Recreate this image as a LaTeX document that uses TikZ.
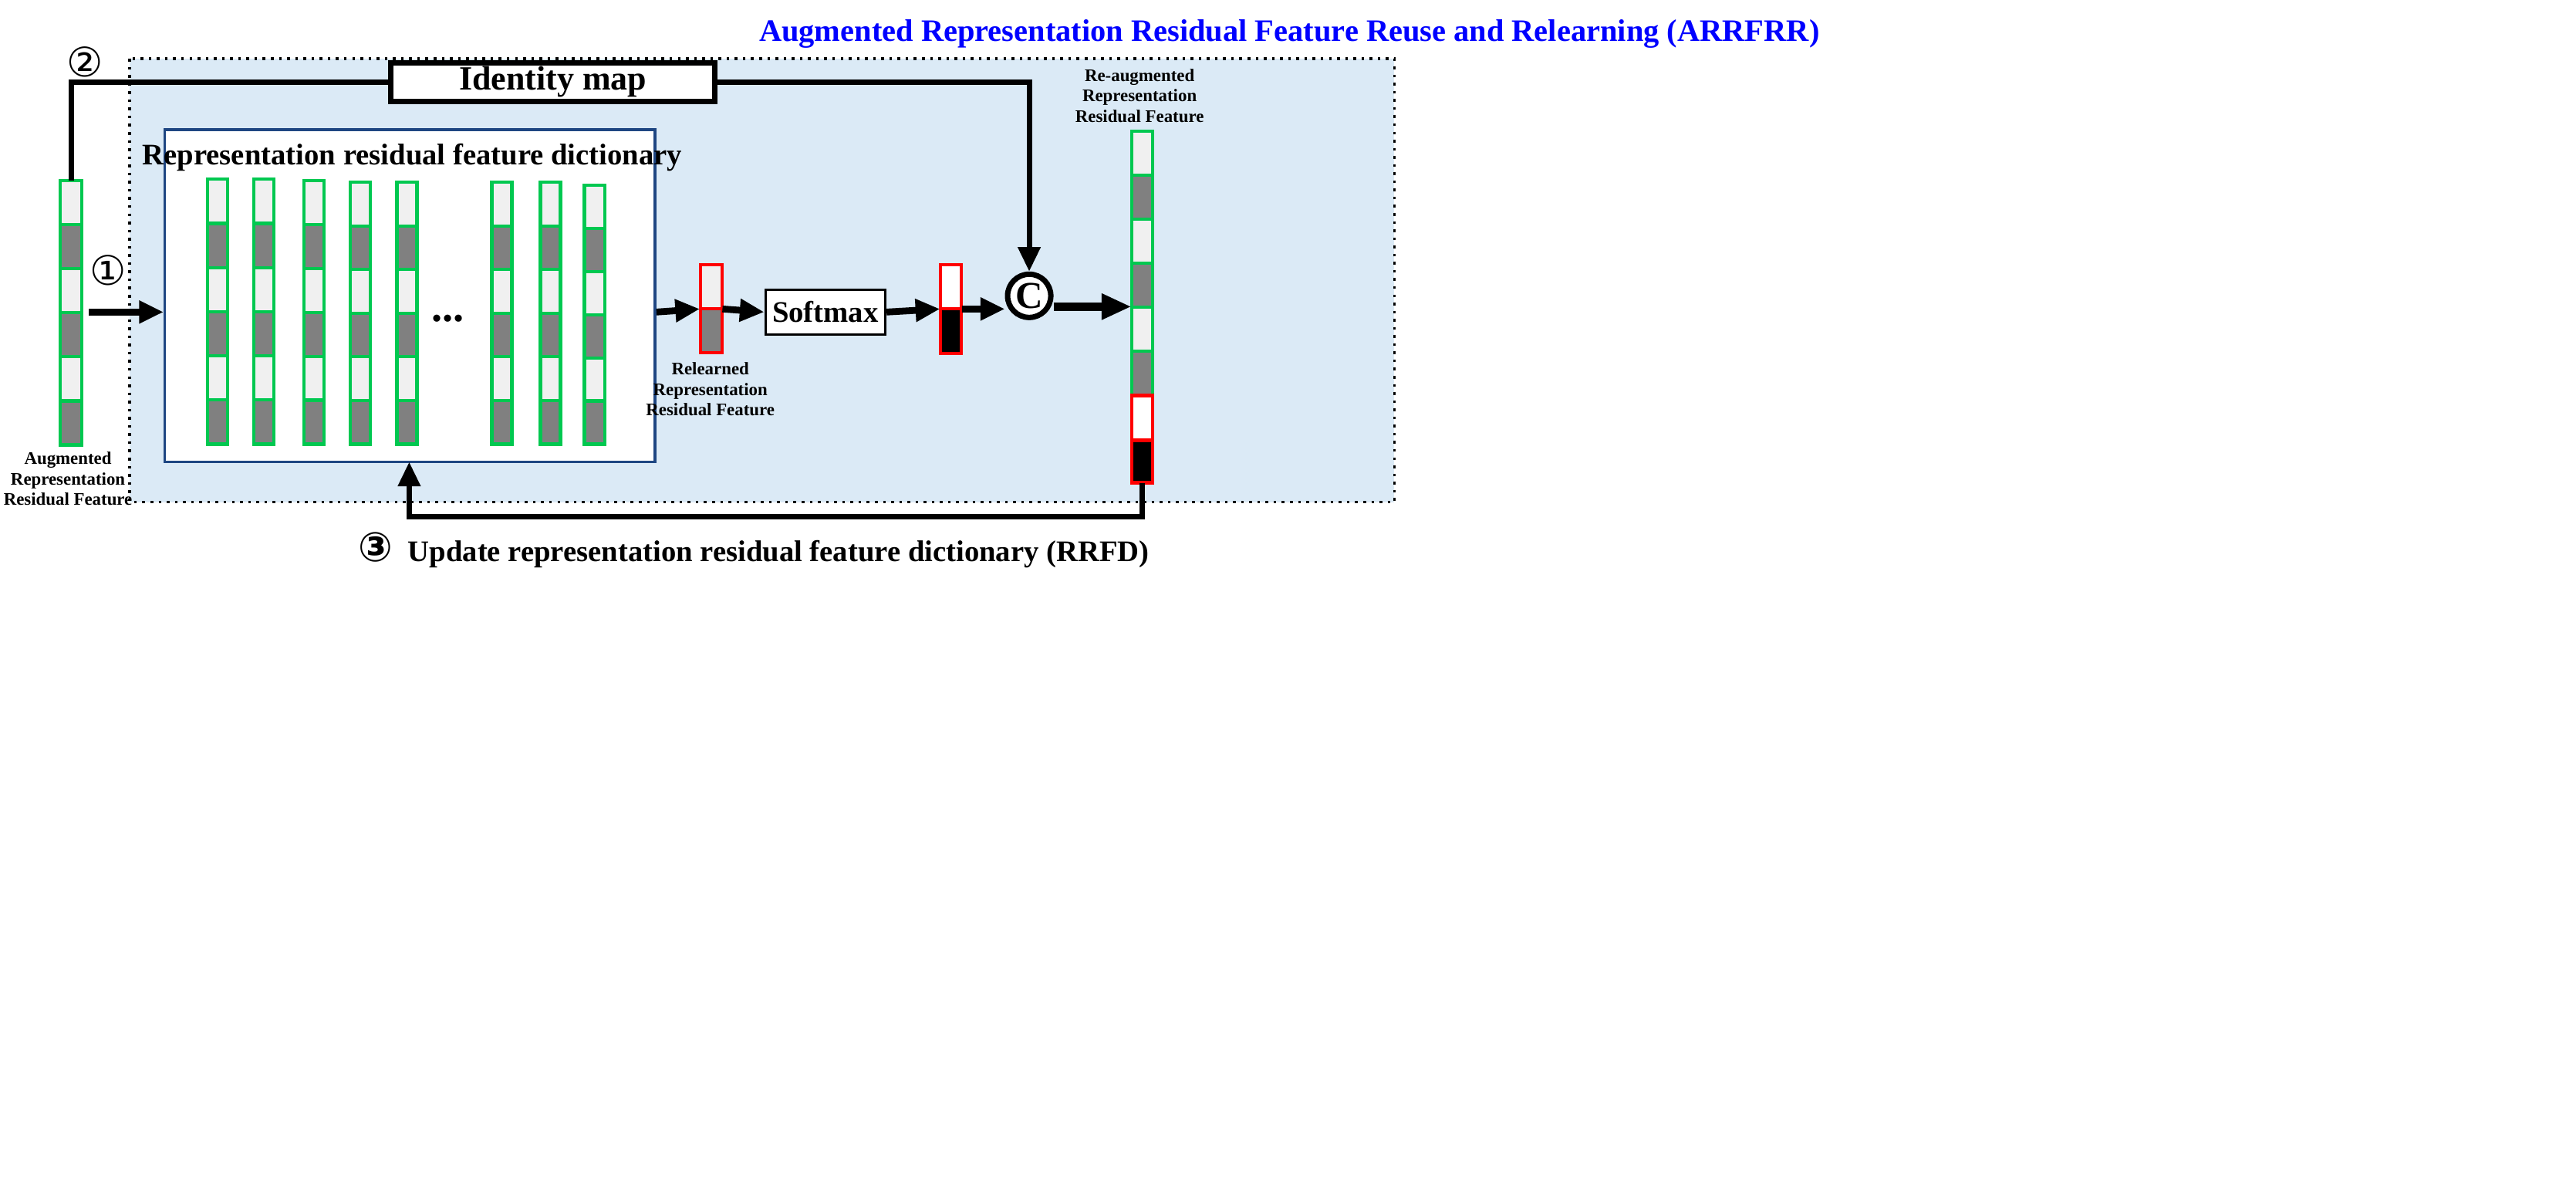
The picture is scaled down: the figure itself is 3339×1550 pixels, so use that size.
\documentclass[tikz,border=0pt]{standalone}
\usepackage{fontspec}
\setmainfont{Liberation Serif}
\newfontfamily\circfont{DejaVu Sans}
\usetikzlibrary{arrows.meta}
\definecolor{bgblue}{RGB}{219,234,246}
\definecolor{gr}{RGB}{0,200,80}
\definecolor{lt}{RGB}{240,240,240}
\definecolor{dk}{RGB}{128,128,128}
\definecolor{navy}{RGB}{30,70,130}
\begin{document}
\begin{tikzpicture}[x=0.01cm,y=-0.01cm,
  arr/.style={line width=2.5pt,-{Triangle[length=9pt,width=8pt]}},
  lbl/.style={font=\bfseries\fontsize{6.5pt}{7.5pt}\selectfont,align=center},
  seg/.style={draw=gr,line width=1.2pt}]
\useasboundingbox (0,0) rectangle (3339,1550);
\fill[white] (0,0) rectangle (3339,1550);
\begin{scope}[x=0.02cm,y=-0.02cm]
\node[text=blue,font=\bfseries\fontsize{11.5pt}{13pt}\selectfont] (title) at (835,22) {Augmented Representation Residual Feature Reuse and Relearning (ARRFRR)};
\draw[dotted,line width=1pt,fill=bgblue] (84,38) rectangle (903,325);
\node[draw,line width=2pt,fill=white,font=\bfseries\fontsize{12.5pt}{14pt}\selectfont,inner sep=0pt,minimum height=0.5cm,minimum width=4.2cm] (id) at (358,53) {Identity map};
\node[draw=navy,line width=1pt,fill=white,minimum width=6.35cm,minimum height=4.3cm,inner sep=0pt] (dict) at (265.5,191.5) {};
\coordinate (db) at (265,299);
\node[font=\bfseries\fontsize{11pt}{12pt}\selectfont] (dt) at (267,102) {Representation residual feature dictionary};
% left vector
\foreach \i in {0,...,5}{
  \pgfmathsetmacro{\c}{mod(\i,2)==0?"lt":"dk"}
  \draw[seg,fill=\c] (39,117+\i*28.5) rectangle (53,117+\i*28.5+28.5);}
\coordinate (lv) at (46,117);
\node[lbl] (lvl) at (44,310) {Augmented\\Representation\\Residual Feature};
% dictionary columns
\foreach \x/\t in {141/116,171/116,203.5/117,233.5/118,263.5/118,325/118,356.5/118,385/120}{
  \pgfmathsetmacro{\h}{(287.5-\t)/6}
  \foreach \i in {0,...,5}{
    \pgfmathsetmacro{\c}{mod(\i,2)==0?"lt":"dk"}
    \draw[seg,fill=\c] (\x-6.5,\t+\i*\h) rectangle (\x+6.5,\t+\i*\h+\h);}}
\node[font=\bfseries\fontsize{16pt}{16pt}\selectfont] (dots) at (290,206) {...};
% red vector 1
\draw[red,line width=1.2pt,fill=lt] (453.5,171.5) rectangle (467.5,200);
\draw[red,line width=1.2pt,fill=dk] (453.5,200) rectangle (467.5,228.5);
\node[inner sep=0pt,minimum width=0.28cm,minimum height=1.14cm] (rv1) at (460.5,200) {};
\node[lbl] (rl) at (460,252) {Relearned\\Representation\\Residual Feature};
\node[draw,line width=1pt,fill=white,minimum width=1.55cm,minimum height=0.58cm,inner sep=0pt,font=\bfseries\fontsize{11pt}{12pt}\selectfont] (sm) at (534.5,202) {Softmax};
% red vector 2
\draw[red,line width=1.2pt,fill=white] (609,171.5) rectangle (622.5,200);
\draw[red,line width=1.2pt,fill=black] (609,200) rectangle (622.5,229);
\node[inner sep=0pt,minimum width=0.27cm,minimum height=1.14cm] (rv2) at (615.8,200) {};
\node[circle,draw,line width=2pt,fill=white,minimum size=0.56cm,inner sep=0pt,font=\bfseries\fontsize{14pt}{14pt}\selectfont] (cc) at (666.5,191.5) {C};
% right vector
\foreach \i in {0,...,5}{
  \pgfmathsetmacro{\c}{mod(\i,2)==0?"lt":"dk"}
  \draw[seg,fill=\c] (733,85+\i*28.5) rectangle (746.5,85+\i*28.5+28.5);}
\draw[red,line width=1.2pt,fill=white] (733,256) rectangle (746.5,285);
\draw[red,line width=1.2pt,fill=black] (733,285) rectangle (746.5,312.5);
\node[inner sep=0pt,minimum width=0.27cm,minimum height=4.55cm] (rv) at (739.8,198.7) {};
\node[lbl] (rvl) at (738,62) {Re-augmented\\Representation\\Residual Feature};
% numbers
\node[font=\circfont\fontsize{15pt}{15pt}\selectfont] (n2) at (55,40) {②};
\node[font=\circfont\fontsize{15pt}{15pt}\selectfont] (n1) at (70,175) {①};
\node[font=\bfseries\fontsize{11pt}{12pt}\selectfont,anchor=west] (n3) at (226,356) {{\circfont\fontsize{15pt}{15pt}\selectfont ③}\ \ Update representation residual feature dictionary (RRFD)};
% connectors
\draw[line width=2pt] (lv) |- (id.west);
\draw[line width=2pt,-{Triangle[length=9pt,width=8pt]}] (id.east) -| (cc.north);
\draw[arr] (57.5,202) -- (dict.west |- 0,202);
\draw[arr] (dict.east |- 0,202) -- (rv1.west);
\draw[arr] (rv1.east) -- (sm.west);
\draw[arr] (sm.east) -- (rv2.west);
\draw[arr] (rv2.east) -- (cc.west |- 0,200);
\draw[line width=3pt,-{Triangle[length=11pt,width=9pt]}] (cc.east |- 0,198.5) -- (rv.west |- 0,198.5);
\draw[line width=2pt,-{Triangle[length=9pt,width=8pt]}] (rv.south) -- ++(0,21.5) -| (db);
\end{scope}
\end{tikzpicture}
\end{document}
